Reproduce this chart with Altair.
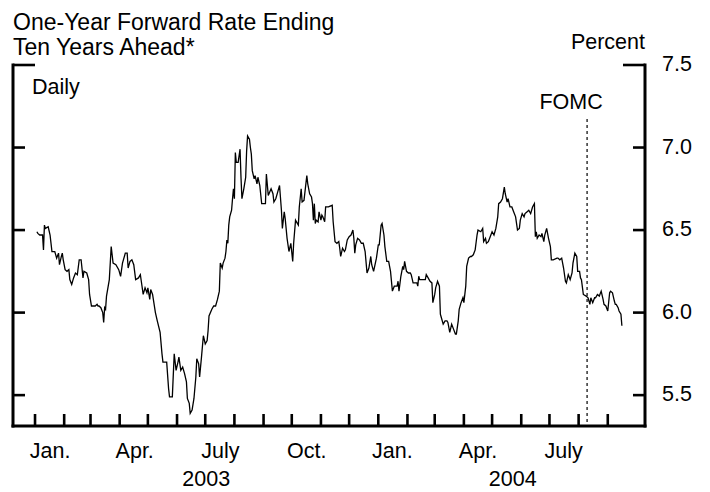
import altair as alt
import pandas as pd

# ---------------- data ----------------
title_lines = ["One-Year Forward Rate Ending", "Ten Years Ahead*"]
unit_label = "Percent"
freq_label = "Daily"
event_label = "FOMC"
event_date = "2004-08-10"

# days since 2003-01-01 and the rate (percent)
day_offsets = [
    2, 3, 5, 8, 9, 10, 11, 14, 16, 18,
    21, 23, 25, 26, 28, 29, 30, 32, 34, 36,
    37, 39, 41, 43, 45, 47, 49, 51, 52, 55,
    57, 58, 60, 64, 66, 67, 68, 70, 72, 73,
    74, 75, 76, 79, 81, 83, 86, 89, 91, 93,
    96, 98, 99, 101, 103, 105, 107, 110, 112, 113,
    115, 117, 119, 120, 122, 123, 125, 128, 130, 133,
    135, 136, 140, 142, 143, 146, 148, 150, 152, 153,
    155, 157, 159, 161, 162, 164, 165, 167, 169, 171,
    172, 174, 175, 177, 179, 181, 183, 184, 185, 188,
    190, 192, 194, 196, 197, 199, 200, 202, 203, 204,
    205, 206, 207, 209, 210, 211, 212, 213, 214, 216,
    218, 219, 220, 222, 224, 225, 226, 228, 229, 230,
    231, 233, 234, 236, 237, 239, 241, 245, 246, 248,
    251, 253, 254, 256, 258, 260, 262, 263, 265, 266,
    268, 270, 272, 274, 275, 277, 278, 280, 281, 283,
    284, 286, 289, 290, 292, 294, 295, 296, 297, 298,
    299, 301, 302, 304, 305, 306, 308, 309, 312, 316,
    317, 319, 321, 323, 324, 325, 327, 329, 330, 332,
    334, 336, 338, 339, 340, 341, 343, 345, 347, 349,
    351, 353, 355, 357, 358, 360, 363, 365, 366, 368,
    369, 371, 372, 374, 376, 378, 380, 382, 385, 386,
    387, 389, 391, 392, 393, 395, 397, 399, 400, 402,
    404, 406, 407, 408, 409, 415, 416, 418, 420, 422,
    423, 425, 426, 428, 430, 431, 432, 434, 436, 438,
    439, 441, 443, 445, 447, 448, 450, 451, 453, 455,
    456, 458, 459, 461, 463, 464, 466, 468, 470, 471,
    474, 476, 477, 479, 480, 482, 484, 486, 488, 490,
    492, 493, 495, 497, 499, 500, 502, 503, 505, 507,
    509, 511, 513, 515, 516, 518, 520, 521, 523, 525,
    527, 529, 531, 532, 533, 534, 536, 538, 539, 541,
    542, 544, 546, 548, 549, 551, 555, 556, 558, 560,
    562, 564, 565, 567, 569, 571, 572, 574, 576, 577,
    579, 580, 581, 583, 586, 588, 589, 590, 591, 593,
    595, 596, 598, 600, 602, 604, 605, 607, 609, 611,
    612, 614, 616, 617, 618, 620, 621, 623, 624,
]
rates = [
    6.49, 6.48, 6.47, 6.47, 6.38, 6.53, 6.51, 6.52, 6.47, 6.37,
    6.37, 6.33, 6.36, 6.29, 6.34, 6.36, 6.32, 6.26, 6.25, 6.26,
    6.20, 6.17, 6.21, 6.24, 6.23, 6.32, 6.32, 6.21, 6.25, 6.24,
    6.20, 6.11, 6.04, 6.04, 6.05, 6.04, 6.04, 6.03, 6.00, 5.94,
    6.03, 6.02, 6.10, 6.20, 6.40, 6.30, 6.29, 6.26, 6.22, 6.30,
    6.36, 6.36, 6.27, 6.31, 6.32, 6.29, 6.20, 6.21, 6.23, 6.19,
    6.11, 6.15, 6.12, 6.15, 6.08, 6.14, 6.11, 6.00, 5.95, 5.88,
    5.75, 5.70, 5.70, 5.54, 5.49, 5.49, 5.75, 5.65, 5.70, 5.73,
    5.65, 5.67, 5.63, 5.58, 5.48, 5.45, 5.39, 5.41, 5.48, 5.61,
    5.72, 5.69, 5.61, 5.73, 5.86, 5.81, 5.83, 5.89, 5.98, 6.02,
    6.04, 6.04, 6.08, 6.13, 6.30, 6.27, 6.30, 6.33, 6.37, 6.44,
    6.42, 6.53, 6.58, 6.62, 6.69, 6.75, 6.69, 6.97, 6.91, 6.91,
    6.99, 6.82, 6.69, 6.75, 6.82, 6.98, 7.07, 7.05, 7.00, 6.96,
    6.86, 6.81, 6.83, 6.78, 6.82, 6.77, 6.66, 6.66, 6.84, 6.71,
    6.75, 6.72, 6.67, 6.69, 6.73, 6.77, 6.62, 6.51, 6.61, 6.57,
    6.45, 6.37, 6.42, 6.31, 6.42, 6.56, 6.55, 6.53, 6.64, 6.75,
    6.67, 6.68, 6.83, 6.78, 6.72, 6.70, 6.66, 6.56, 6.66, 6.54,
    6.56, 6.55, 6.61, 6.56, 6.59, 6.58, 6.55, 6.64, 6.64, 6.65,
    6.55, 6.43, 6.42, 6.43, 6.39, 6.34, 6.39, 6.37, 6.38, 6.44,
    6.46, 6.47, 6.50, 6.45, 6.36, 6.41, 6.45, 6.44, 6.42, 6.42,
    6.37, 6.24, 6.27, 6.34, 6.29, 6.25, 6.33, 6.41, 6.41, 6.53,
    6.54, 6.47, 6.40, 6.31, 6.31, 6.25, 6.13, 6.16, 6.16, 6.19,
    6.13, 6.22, 6.28, 6.26, 6.31, 6.25, 6.24, 6.24, 6.23, 6.18,
    6.18, 6.18, 6.16, 6.22, 6.20, 6.20, 6.23, 6.21, 6.19, 6.18,
    6.06, 6.11, 6.15, 6.19, 6.16, 5.99, 5.97, 5.93, 5.95, 5.95,
    5.94, 5.88, 5.93, 5.90, 5.87, 5.87, 5.95, 6.02, 6.06, 6.09,
    6.06, 6.16, 6.28, 6.33, 6.34, 6.34, 6.35, 6.38, 6.47, 6.50,
    6.49, 6.51, 6.43, 6.45, 6.42, 6.43, 6.46, 6.49, 6.47, 6.51,
    6.58, 6.66, 6.67, 6.69, 6.76, 6.72, 6.67, 6.69, 6.64, 6.64,
    6.61, 6.58, 6.50, 6.51, 6.56, 6.60, 6.58, 6.60, 6.61, 6.62,
    6.60, 6.64, 6.66, 6.46, 6.49, 6.45, 6.47, 6.46, 6.48, 6.43,
    6.47, 6.51, 6.45, 6.40, 6.32, 6.32, 6.33, 6.33, 6.32, 6.33,
    6.27, 6.19, 6.18, 6.23, 6.20, 6.24, 6.30, 6.36, 6.34, 6.25,
    6.25, 6.21, 6.20, 6.11, 6.10, 6.09, 6.07, 6.05, 6.09, 6.06,
    6.09, 6.09, 6.11, 6.10, 6.13, 6.08, 6.05, 6.04, 6.01, 6.12,
    6.13, 6.12, 6.07, 6.05, 6.05, 6.03, 6.01, 5.99, 5.92,
]

y_short_ticks = [5.5, 6.0, 6.5, 7.0]
y_long_ticks = [7.5]
y_label_values = [5.5, 6.0, 6.5, 7.0, 7.5]
y_label_text = ["5.5", "6.0", "6.5", "7.0", "7.5"]

month_tick_dates = [
    "2003-01-01", "2003-02-01", "2003-03-01", "2003-04-01", "2003-05-01",
    "2003-06-01", "2003-07-01", "2003-08-01", "2003-09-01", "2003-10-01",
    "2003-11-01", "2003-12-01", "2004-01-01", "2004-02-01", "2004-03-01",
    "2004-04-01", "2004-05-01", "2004-06-01", "2004-07-01", "2004-08-01",
    "2004-09-01",
]
month_label_dates = ["2003-01-17", "2003-04-17", "2003-07-17", "2003-10-17",
                     "2004-01-16", "2004-04-16", "2004-07-16"]
month_label_text = ["Jan.", "Apr.", "July", "Oct.", "Jan.", "Apr.", "July"]
year_label_dates = ["2003-07-02", "2004-05-23"]
year_label_text = ["2003", "2004"]

# ---------------- build ----------------
base = pd.Timestamp("2003-01-01")
dates = [(base + pd.Timedelta(days=int(d))).strftime("%Y-%m-%d") for d in day_offsets]
df = pd.DataFrame({"date": dates, "rate": rates})

W, H = 632, 361
FONT = "Liberation Sans"
LBL = 21.5

x_scale = alt.Scale(
    type="utc",
    domain=[
        alt.DateTime(year=2002, month=12, date=8, hours=14, utc=True),
        alt.DateTime(year=2004, month=10, date=10, hours=14, utc=True),
    ],
)
y_scale = alt.Scale(domain=[5.313, 7.5], nice=False, zero=False)

line = alt.Chart(df).mark_line(color="black", strokeWidth=1.3).encode(
    x=alt.X("date:T", scale=x_scale, axis=None),
    y=alt.Y("rate:Q", scale=y_scale, axis=None),
)

one = pd.DataFrame({"k": [0]})
frame_style = dict(color="black", strokeWidth=3, strokeCap="square")
left_line = alt.Chart(one).mark_rule(**frame_style).encode(
    x=alt.value(0), y=alt.value(0), y2=alt.value(H)
)
right_line = alt.Chart(one).mark_rule(**frame_style).encode(
    x=alt.value(W), y=alt.value(0), y2=alt.value(H)
)
bottom_line = alt.Chart(one).mark_rule(**frame_style).encode(
    x=alt.value(0), x2=alt.value(W), y=alt.value(H)
)

short_df = pd.DataFrame({"v": y_short_ticks})
long_df = pd.DataFrame({"v": y_long_ticks})


def hticks(data, x0, x1):
    return alt.Chart(data).mark_rule(color="black", strokeWidth=2.6).encode(
        y=alt.Y("v:Q", scale=y_scale, axis=None),
        x=alt.value(x0), x2=alt.value(x1),
    )


left_short = hticks(short_df, 0, 12)
left_long = hticks(long_df, 0, 22)
right_short = hticks(short_df, W - 12, W)
right_long = hticks(long_df, W - 22, W)

ylab_df = pd.DataFrame({"v": y_label_values, "t": y_label_text})
y_labels = alt.Chart(ylab_df).mark_text(
    font=FONT, fontSize=LBL, color="black", align="left", baseline="middle"
).encode(y=alt.Y("v:Q", scale=y_scale, axis=None), x=alt.value(W + 17), text="t:N")

mt_df = pd.DataFrame({"date": month_tick_dates})
bottom_ticks = alt.Chart(mt_df).mark_rule(color="black", strokeWidth=2.6).encode(
    x=alt.X("date:T", scale=x_scale, axis=None),
    y=alt.value(H - 12), y2=alt.value(H),
)

ml_df = pd.DataFrame({"date": month_label_dates, "t": month_label_text})
month_labels = alt.Chart(ml_df).mark_text(
    font=FONT, fontSize=LBL, color="black", align="center", baseline="alphabetic"
).encode(x=alt.X("date:T", scale=x_scale, axis=None), y=alt.value(H + 32), text="t:N")

yl_df = pd.DataFrame({"date": year_label_dates, "t": year_label_text})
year_labels = alt.Chart(yl_df).mark_text(
    font=FONT, fontSize=LBL, color="black", align="center", baseline="alphabetic"
).encode(x=alt.X("date:T", scale=x_scale, axis=None), y=alt.value(H + 60), text="t:N")

ev_df = pd.DataFrame({"date": [event_date], "t": [event_label]})
fomc_rule = alt.Chart(ev_df).mark_rule(color="black", strokeWidth=1.2, strokeDash=[3, 3]).encode(
    x=alt.X("date:T", scale=x_scale, axis=None), y=alt.value(54), y2=alt.value(H)
)
fomc_text = alt.Chart(ev_df).mark_text(
    font=FONT, fontSize=LBL, color="black", align="center", baseline="alphabetic", dx=-16
).encode(x=alt.X("date:T", scale=x_scale, axis=None), y=alt.value(44), text="t:N")


def label(text, x, y, align="left", size=LBL):
    return alt.Chart(pd.DataFrame({"t": [text]})).mark_text(
        font=FONT, fontSize=size, color="black", align=align, baseline="alphabetic"
    ).encode(x=alt.value(x), y=alt.value(y), text="t:N")


title1 = label(title_lines[0], 0, -35.5, size=23)
title2 = label(title_lines[1], 0, -10, size=23)
percent = label(unit_label, W, -16, align="right")
daily = label(freq_label, 19, 29)

chart = alt.layer(
    line, left_line, right_line, bottom_line,
    left_short, left_long, right_short, right_long, bottom_ticks, y_labels,
    month_labels, year_labels, fomc_rule, fomc_text, title1, title2, percent, daily,
).properties(
    width=W, height=H,
    autosize=alt.AutoSizeParams(type="none"),
    padding={"left": 5, "top": 57, "right": 57, "bottom": 66},
    background="white",
).configure_view(stroke=None)

chart.save("out.html", embed_options={"renderer": "svg", "actions": False})
